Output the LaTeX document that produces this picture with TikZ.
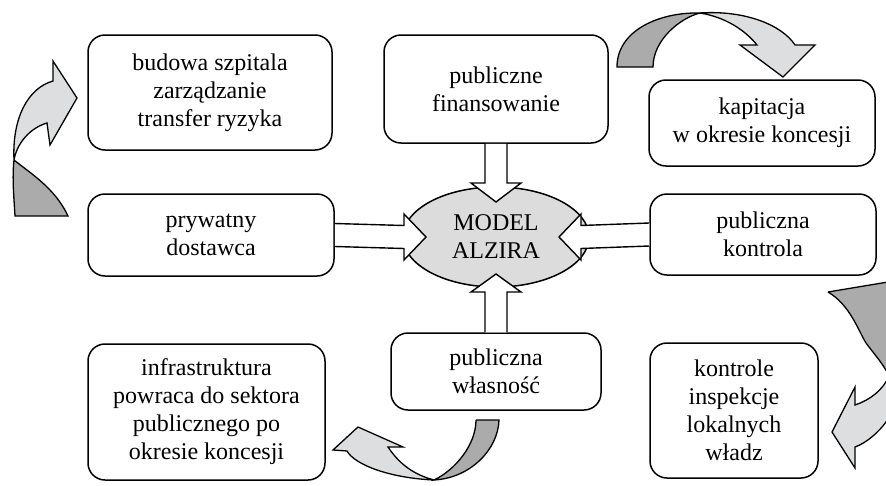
\documentclass[tikz,border=0pt]{standalone}
\usepackage{fontspec}
\setmainfont{Liberation Serif}
\usetikzlibrary{calc,shapes.geometric}
\definecolor{lightg}{HTML}{DCDEDF}
\definecolor{darkg}{HTML}{ABABAB}
\definecolor{ellg}{HTML}{DCDCDC}
\newcommand\boxfont{\fontsize{24}{28}\selectfont}
\begin{document}
\begin{tikzpicture}[x=1pt,y=-1pt,
  box/.style={draw, line width=1.5pt, rounded corners=17pt, align=center, font=\boxfont, inner sep=0pt},
  blk/.style={draw, fill=white, line width=1.4pt, line join=miter},
  carr/.style={draw, line width=1.3pt, line join=miter}]
\useasboundingbox (0,0) rectangle (886,485);
% boxes
\node[box, minimum width=244pt, minimum height=115pt] (bud) at (210,92.5) {budowa szpitala\\zarządzanie\\transfer ryzyka};
\node[box, minimum width=224pt, minimum height=108pt] (fin) at (496,89) {publiczne\\finansowanie};
\node[box, minimum width=226pt, minimum height=86pt] (kap) at (762,123) {kapitacja\\w okresie koncesji};
\node[box, minimum width=246pt, minimum height=82pt] (pry) at (211,235) {prywatny\\dostawca};
\node[box, minimum width=226pt, minimum height=81pt] (kon) at (763,234.5) {publiczna\\kontrola};
\node[box, minimum width=237pt, minimum height=136pt] (inf) at (206.5,412) {infrastruktura\\powraca do sektora\\publicznego po\\okresie koncesji};
\node[box, minimum width=210pt, minimum height=77pt] (wla) at (496,371.5) {publiczna\\własność};
\node[box, minimum width=168pt, minimum height=135pt] (ins) at (734,410.5) {kontrole\\inspekcje\\lokalnych\\władz};
% central ellipse
\node[ellipse, draw, line width=1.5pt, fill=ellg, minimum width=186pt, minimum height=100pt, inner sep=0pt, align=center, font=\boxfont] (model) at (496,237) {MODEL\\ALZIRA};
% block arrows
\draw[blk] ($(fin.south)+(-11,0)$) -- ($(model.center)+(-11,-54)$) -- ($(model.center)+(-25,-54)$) -- ($(model.center)+(0,-35)$) -- ($(model.center)+(25,-54)$) -- ($(model.center)+(11,-54)$) -- ($(fin.south)+(11,0)$);
\draw[blk] ($(wla.north)+(-11,0)$) -- ($(model.center)+(-11,55)$) -- ($(model.center)+(-25,55)$) -- ($(model.center)+(0,37)$) -- ($(model.center)+(25,55)$) -- ($(model.center)+(11,55)$) -- ($(wla.north)+(11,0)$);
\draw[blk] ($(pry.east)+(0,-11.5)$) -- ($(model.center)+(-92,-11.5)$) -- ($(model.center)+(-92,-23)$) -- ($(model.center)+(-70,0)$) -- ($(model.center)+(-92,23)$) -- ($(model.center)+(-92,11.5)$) -- ($(pry.east)+(0,11.5)$);
\draw[blk] ($(kon.west)+(0,-11.5)$) -- ($(model.center)+(85,-11.5)$) -- ($(model.center)+(85,-23)$) -- ($(model.center)+(63,0)$) -- ($(model.center)+(85,23)$) -- ($(model.center)+(85,11.5)$) -- ($(kon.west)+(0,11.5)$);
% curved arrow A (left)
\begin{scope}[yshift=12pt]
\draw[carr, fill=darkg] (14,172) .. controls (12,190) and (14,210) .. (15,228) -- (68,228) .. controls (55,200) and (30,185) .. (14,172);
\draw[carr, fill=lightg] (14,172) .. controls (12,130) and (28,100) .. (53,93) -- (53,73) -- (77,110) -- (50,157) -- (47,135) .. controls (30,140) and (17,155) .. (14,172);
\end{scope}
% curved arrow B (top right)
\draw[carr, fill=darkg] (617,67) .. controls (617,30) and (660,12) .. (700,13) .. controls (680,18) and (653,40) .. (653,67) -- cycle;
\draw[carr, fill=lightg] (700,13) .. controls (745,10) and (782,25) .. (795,45) -- (815,45) -- (783,77) -- (740,45) -- (757,45) .. controls (745,30) and (725,17) .. (700,13);
% curved arrow C (right bottom)
\draw[carr, fill=darkg] (828,292) -- (900,280) .. controls (903,320) and (898,355) .. (889,376) .. controls (884,365) and (875,355) .. (866,343) .. controls (858,330) and (850,305) .. (828,292);
\draw[carr, fill=lightg] (889,376) .. controls (896,395) and (895,412) .. (886,422) .. controls (878,433) and (866,443) .. (855,447) -- (855,468) -- (832,432) -- (855,387) -- (855,405) .. controls (870,400) and (883,390) .. (889,376);
% curved arrow D (bottom centre)
\draw[carr, fill=darkg] (476,420) -- (499,420) .. controls (498,450) and (470,478) .. (434,480) .. controls (455,470) and (476,445) .. (476,420);
\draw[carr, fill=lightg] (434,480) .. controls (390,478) and (355,465) .. (347,451) -- (333,450) -- (358,427) -- (403,447) -- (388,447) .. controls (400,465) and (415,475) .. (434,480);
\end{tikzpicture}
\end{document}
